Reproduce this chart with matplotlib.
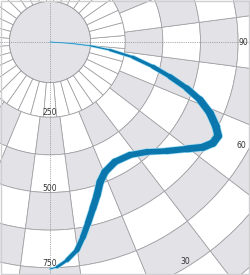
import numpy as np
import matplotlib
matplotlib.use('Agg')
import matplotlib.pyplot as plt
from matplotlib.collections import LineCollection
from matplotlib.patches import Rectangle

# ---- data ----
curve_theta_deg = [87, 86.3, 84.7, 82.4, 79.6, 76.5, 73.9, 71.3, 68.9, 66.0, 63.0,
                   60.8, 58.2, 55.5, 52.0, 47.0, 41.4, 35.3, 28.4, 22.9, 19.7,
                   17.1, 14.5, 11.9, 9.6, 7.4, 4.5, 1.8, 0.0]
curve_r = [0, 67, 134, 201, 280, 352, 415, 480, 534, 582, 619,
           640, 637, 617, 577, 531, 487, 460, 453, 469, 494,
           532, 570, 614, 657, 697, 727, 748, 754]
curve_width_px = [1, 1.5, 2, 3, 4, 5, 6, 7, 8, 9, 9,
                  9, 9, 8.5, 8, 7, 7, 7.5, 8, 8.5, 8.5,
                  8.5, 8, 7.5, 7, 6, 5, 3, 1.5]
r_ticks = [250, 500, 750]
theta_ticks = [90, 60, 30]
theta_label_pos = [(90, 641), (61.5, 724), (31.5, 857)]
ring_edges = [250, 375, 500, 625, 750, 875, 1000, 1125, 1250]
inner_disk_r = 135

# ---- figure / axes ----
W, H, DPI = 250, 275, 100
fig = plt.figure(figsize=(W / DPI, H / DPI), dpi=DPI)
RMAX = 1250
scale = 0.301          # px per data unit
Rpx = RMAX * scale
cx, cy = 50, H - 42
ax = fig.add_axes([(cx - Rpx) / W, (cy - Rpx) / H, 2 * Rpx / W, 2 * Rpx / H],
                  projection='polar')
ax.set_theta_zero_location('S')
ax.set_theta_direction(1)
ax.set_ylim(0, RMAX)
ax.grid(False)
ax.set_xticks([])
ax.set_yticks([])
ax.spines['polar'].set_visible(False)
ax.patch.set_visible(False)

GRAY = '#e3e3e7'
LINE = '#a0a0a4'
LW = 0.55

# inner disk (no radial edge), outline drawn separately
ax.bar(0, inner_disk_r, width=2 * np.pi, bottom=0, color=GRAY,
       edgecolor='none', linewidth=0, align='edge')
circ = np.linspace(0, 2 * np.pi, 361)
ax.plot(circ, np.full_like(circ, inner_disk_r), color=LINE, lw=LW, zorder=2)
# first ring, white with spokes every 10 deg (offset 5)
for k in range(36):
    ax.bar(np.deg2rad(5 + 10 * k), 250 - inner_disk_r, width=np.deg2rad(10),
           bottom=inner_disk_r, color='white', edgecolor=LINE, linewidth=LW,
           align='edge')
# outer checkerboard rings, 15 deg cells centred on multiples of 15 deg
for i in range(len(ring_edges) - 1):
    for j in range(24):
        k = (j + 1) % 24
        col = GRAY if (i + k) % 2 == 0 else 'white'
        ax.bar(np.deg2rad(7.5 + 15 * j), ring_edges[i + 1] - ring_edges[i],
               width=np.deg2rad(15), bottom=ring_edges[i], color=col,
               edgecolor=LINE, linewidth=LW, align='edge')

# dotted axis lines
for t in [0, 90, 180, 270]:
    ax.plot([np.deg2rad(t)] * 2, [0, RMAX], ls=(0, (1, 1.2)), color='#909094',
            lw=0.6, zorder=3)

# band
th = np.deg2rad(curve_theta_deg)
pts = np.column_stack([th, curve_r])
segs = np.stack([pts[:-1], pts[1:]], axis=1)
wpx = [(a + b) / 2 for a, b in zip(curve_width_px[:-1], curve_width_px[1:])]
halo = LineCollection(segs, linewidths=[w * 72 / DPI for w in wpx],
                      colors='#92d8f3', capstyle='round', joinstyle='round',
                      zorder=4, transform=ax.transData)
ax.add_collection(halo)
band = LineCollection(segs, linewidths=[max(w - 1.4, 0.6) * 72 / DPI for w in wpx],
                      colors='#0b77ac', capstyle='round', joinstyle='round',
                      zorder=5, transform=ax.transData)
ax.add_collection(band)

# labels
for r in r_ticks:
    ax.text(0, r, str(r), ha='center', va='bottom', fontsize=5.5,
            color='#333333', zorder=6)
for lab, (t, rr) in zip(theta_ticks, theta_label_pos):
    ax.text(np.deg2rad(t), rr, str(lab), ha='center', va='center', fontsize=5.5,
            color='#333333', zorder=6)

# frame
fig.add_artist(Rectangle((0.004, 0.004), 0.992, 0.992, transform=fig.transFigure,
                         fill=False, ec='#cfcfd2', lw=1.0))

fig.savefig('out.png', dpi=DPI)
